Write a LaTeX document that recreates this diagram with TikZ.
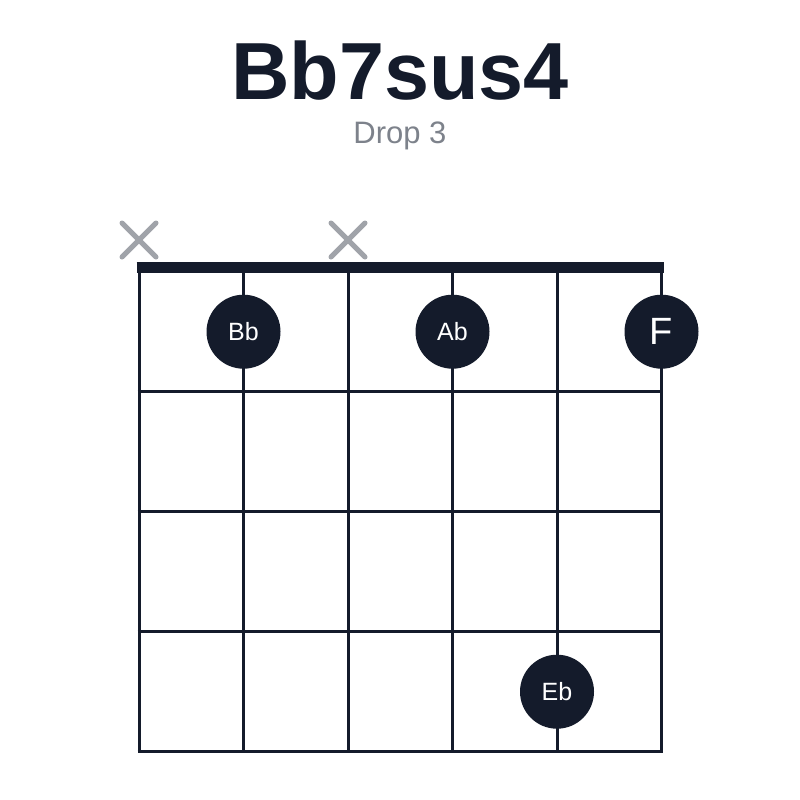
\documentclass[tikz,border=0pt]{standalone}
\usepackage{fontspec}
\setmainfont{Liberation Sans}
\definecolor{ink}{HTML}{141B2B}
\definecolor{mute}{HTML}{A0A3A9}
\definecolor{sub}{HTML}{7D828B}
\tikzset{
  gridline/.style={draw=ink, line width=3pt},
  nutline/.style={draw=ink, line width=11pt},
  xmark/.style={draw=mute, line width=5pt, line cap=round},
  dotnode/.style={circle, fill=ink, minimum size=74pt, inner sep=0pt, text=white, font=\fontsize{25}{25}\selectfont},
  bigdot/.style={dotnode, font=\fontsize{38}{38}\selectfont},
}
\begin{document}
\begin{tikzpicture}[x=1pt,y=-1pt]
\useasboundingbox (0,0) rectangle (800,800);
\fill[white] (0,0) rectangle (800,800);
\node[text=ink] (title) at (400,71) {\fontsize{81}{81}\selectfont\bfseries Bb7sus4};
\node[text=sub] (subt) at (400,136) {\fontsize{31}{31}\selectfont Drop 3};
% strings
\foreach \i in {0,...,5} {
  \coordinate (s\i) at ({139+104.5*\i},267.5);
  \coordinate (e\i) at ({139+104.5*\i},751.7);
  \draw[gridline] (s\i) -- (e\i);
}
% frets
\foreach \j in {1,...,4} {
  \coordinate (fl\j) at (137.5,{271.7+120*\j});
  \coordinate (fr\j) at (663,{271.7+120*\j});
  \draw[gridline] (fl\j) -- (fr\j);
}
% nut
\coordinate (nl) at (136.5,267.5);
\coordinate (nr) at (663.5,267.5);
\draw[nutline] (nl) -- (nr);
% muted strings
\foreach \i/\xx in {0/139,2/348} {
  \coordinate (xa\i) at ({\xx-17},223);
  \coordinate (xb\i) at ({\xx+17},257);
  \coordinate (xc\i) at ({\xx-17},257);
  \coordinate (xd\i) at ({\xx+17},223);
  \draw[xmark] (xa\i) -- (xb\i);
  \draw[xmark] (xc\i) -- (xd\i);
}
% fingers
\node[dotnode] (bb) at (243.5,331.7) {Bb};
\node[dotnode] (ab) at (452.5,331.7) {Ab};
\node[bigdot] (f) at (661.5,331.7) {F};
\node[dotnode] (eb) at (557,691.7) {Eb};
\end{tikzpicture}
\end{document}
